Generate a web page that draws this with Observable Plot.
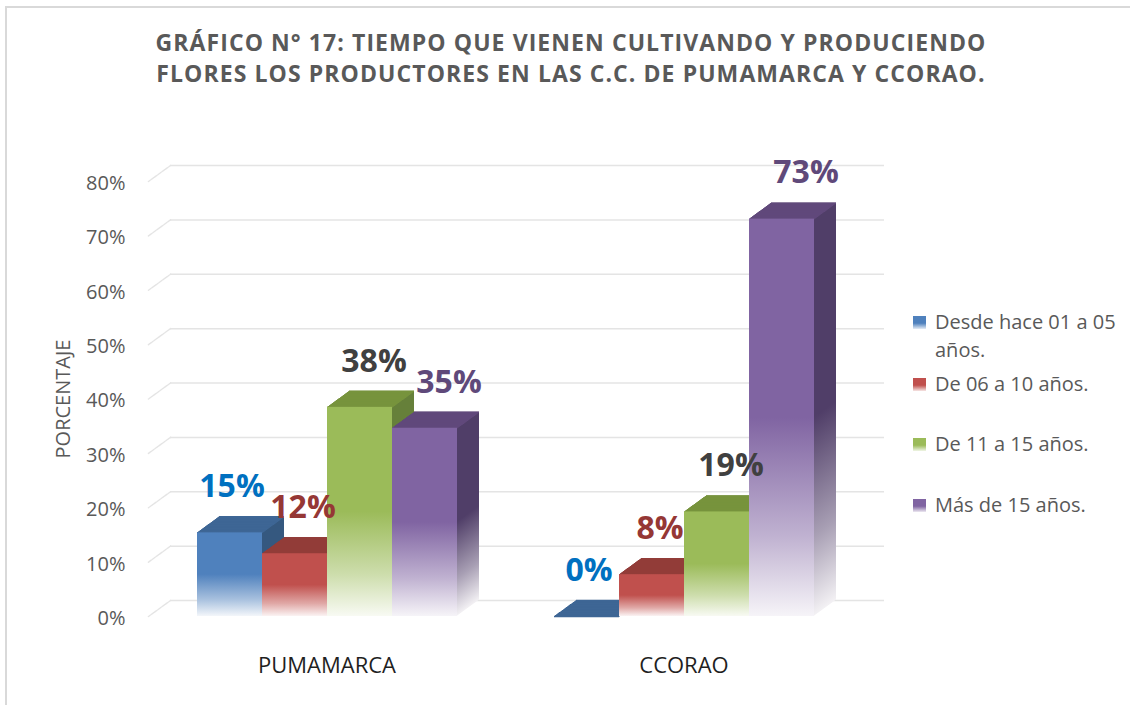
<!DOCTYPE html>
<html><head><meta charset="utf-8">
<script src="https://cdn.jsdelivr.net/npm/d3@7"></script>
<script src="https://cdn.jsdelivr.net/npm/@observablehq/plot@0.6"></script>
<style>
body{margin:0;background:#fff;}
#wrap{position:relative;width:1130px;height:705px;overflow:hidden;font-family:"Open Sans",sans-serif;background:#fff;}
#frame{position:absolute;left:5px;top:6px;right:-4px;bottom:-4px;border-top:2px solid #d9d9d9;border-left:2px solid #d9d9d9;}
#chart{position:absolute;left:0;top:0;}
#title{position:absolute;left:0;width:1142px;top:27px;text-align:center;font-weight:700;color:#595959;font-size:23px;line-height:31px;white-space:nowrap;}
#legend{position:absolute;left:913px;top:0;width:215px;}
.item{position:absolute;left:0;width:190px;font-size:20px;line-height:28px;color:#595959;padding-left:22px;}
.sw{position:absolute;left:0;top:8px;width:13px;height:13px;}
</style></head>
<body>
<div id="wrap">
  <div id="frame"></div>
  <div id="chart"></div>
  <div id="title"></div>
  <div id="legend"></div>
</div>
<script>
const titleLines = ["GRÁFICO N° 17: TIEMPO QUE VIENEN CULTIVANDO Y PRODUCIENDO", "FLORES LOS PRODUCTORES EN LAS C.C. DE PUMAMARCA Y CCORAO."];
const yLabel = "PORCENTAJE";
const groups = ["PUMAMARCA", "CCORAO"];
const series = ["Desde hace 01 a 05 años.", "De 06 a 10 años.", "De 11 a 15 años.", "Más de 15 años."];
const pumamarca = [15.38, 11.54, 38.46, 34.62];
const ccorao = [0, 7.69, 19.23, 73.08];
const yTicks = [0, 10, 20, 30, 40, 50, 60, 70, 80];

const frontColors = ["#4f81bd", "#c0504d", "#9bbb59", "#8064a2"];
const topColors = ["#3e6695", "#923c39", "#77933c", "#60497b"];
const sideColors = ["#35587f", "#7e3330", "#66803a", "#503e68"];
const labelColors = ["#0070c0", "#953735", "#404040", "#5f497a"];
const labelShift = [2, 8, 14, 24];

const DX = 22, DY = -16, N = 22;

const values = [pumamarca, ccorao];
const data = groups.flatMap((g, gi) => series.map((s, si) => ({group: g, series: s, si, value: values[gi][si]})));

const marks = [];
// back-plane gridlines
marks.push(Plot.ruleY(yTicks, {dx: DX, dy: DY, stroke: "#e4e4e4", strokeWidth: 1.5}));
// left wall diagonals
const diag = yTicks.map(v => ({group: groups[0], v}));
for (let i = 0; i <= DX; i++) {
  marks.push(Plot.dot(diag, {fx: "group", y: "v", frameAnchor: "left", r: 0.8, fill: "#e4e4e4", stroke: null, dx: i, dy: i * DY / DX}));
}
// 3D bars, series by series (left to right for correct overlap)
series.forEach((s, si) => {
  const d = data.filter(r => r.si === si);
  for (let i = N; i >= 1; i--) {
    marks.push(Plot.barY(d, {fx: "group", x: "series", y: "value", fill: `url(#side${si})`, inset: 0, dx: i * DX / N, dy: i * DY / N}));
  }
  for (let i = 0; i <= N; i++) {
    marks.push(Plot.tickY(d, {fx: "group", x: "series", y: "value", stroke: topColors[si], strokeWidth: 1.5, dx: i * DX / N, dy: i * DY / N}));
  }
  marks.push(Plot.barY(d, {fx: "group", x: "series", y: "value", fill: `url(#front${si})`, inset: 0}));
});
// data labels
series.forEach((s, si) => {
  marks.push(Plot.text(data.filter(r => r.si === si), {
    fx: "group", x: "series", y: "value", text: d => Math.round(d.value) + "%",
    fill: labelColors[si], fontSize: 32, fontWeight: 700, dx: labelShift[si], dy: -46
  }));
});
marks.push(Plot.axisY({ticks: yTicks, tickFormat: d => d + "%", tickSize: 0, tickPadding: 23, fontSize: 20, fill: "#595959", dy: 2,
  label: yLabel, labelAnchor: "center", labelOffset: 93, labelArrow: false}));
marks.push(Plot.axisFx({anchor: "bottom", tickSize: 0, tickPadding: 41, fontSize: 22, fill: "#1f1f1f", label: null}));

const svg = Plot.plot({
  width: 1130, height: 705,
  marginTop: 181, marginBottom: 89, marginLeft: 147, marginRight: 268,
  fx: {domain: groups, padding: 0, label: null},
  x: {domain: series, paddingInner: 0, paddingOuter: 0.745, axis: null},
  y: {domain: [0, 80]},
  style: {fontFamily: '"Open Sans", sans-serif', background: "transparent", overflow: "visible"},
  marks
});

// gradients
const defs = d3.select(svg).insert("defs", ":first-child");
function grad(id, c) {
  const w = d3.interpolateRgb(c, "#ffffff");
  const g = defs.append("linearGradient").attr("id", id).attr("x1", 0).attr("y1", 0).attr("x2", 0).attr("y2", 1);
  [[0, c], [0.5, c], [0.8, w(0.5)], [1, w(0.93)]].forEach(([o, col]) => g.append("stop").attr("offset", o).attr("stop-color", col));
}
frontColors.forEach((c, i) => grad("front" + i, c));
sideColors.forEach((c, i) => grad("side" + i, c));

document.getElementById("chart").appendChild(svg);

// title
const title = document.getElementById("title");
title.innerHTML = titleLines.map(t => `<div>${t}</div>`).join("");
const ctx = document.createElement("canvas").getContext("2d");
ctx.font = '700 23px "Open Sans"';
const w1 = ctx.measureText(titleLines[0]).width;
title.style.letterSpacing = Math.max(0, (830 - w1) / (titleLines[0].length - 1)).toFixed(2) + "px";

// legend
const legendTops = [308, 370, 430, 491];
const legend = document.getElementById("legend");
series.forEach((s, i) => {
  const item = document.createElement("div");
  item.className = "item";
  item.style.top = legendTops[i] + "px";
  const c = frontColors[i];
  const light = d3.interpolateRgb(c, "#fff")(0.85);
  item.innerHTML = `<span class="sw" style="background:linear-gradient(to bottom, ${c} 0%, ${c} 55%, ${light} 100%)"></span>${s}`;
  legend.appendChild(item);
});
</script>
</body></html>
